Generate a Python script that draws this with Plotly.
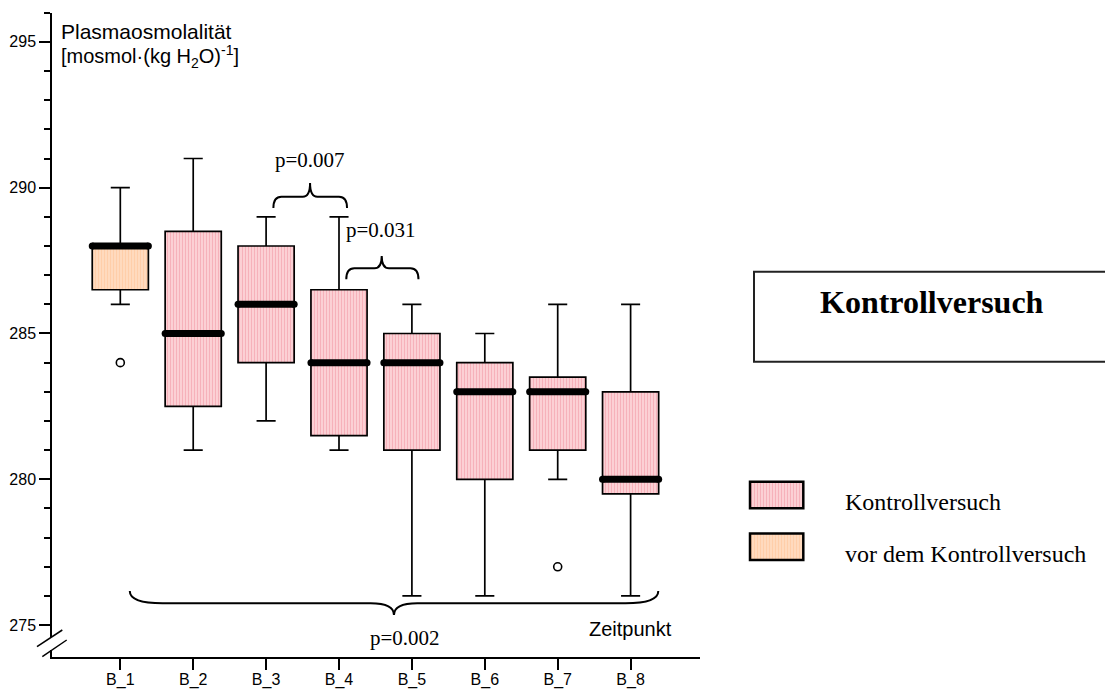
import plotly.graph_objects as go

# ---------------- data ----------------
categories = ["B_1", "B_2", "B_3", "B_4", "B_5", "B_6", "B_7", "B_8"]
lower_whisker = [286, 281, 282, 281, 276, 276, 280, 276]
q1_vals = [286.5, 282.5, 284, 281.5, 281, 280, 281, 279.5]
median_vals = [288, 285, 286, 284, 284, 283, 283, 280]
q3_vals = [288, 288.5, 288, 286.5, 285, 284, 283.5, 283]
upper_whisker = [290, 291, 289, 289, 286, 285, 286, 286]
group = ["vor", "kontroll", "kontroll", "kontroll", "kontroll", "kontroll", "kontroll", "kontroll"]
outlier_cat = ["B_1", "B_7"]
outlier_val = [284, 277]

legend_labels = ["Kontrollversuch", "vor dem Kontrollversuch"]
title_text = "Kontrollversuch"
y_title_1 = "Plasmaosmolalität"
y_title_2 = "[mosmol·(kg H<sub>2</sub>O)<sup>-1</sup>]"
x_title = "Zeitpunkt"

# brace annotations: (x_left, x_right, x_tip, y_line, y_end, y_tip, r_end, r_tip, label, label_x, label_y)
braces = [
    (2.10, 3.11, 2.603, 289.69, 289.30, 290.16, 0.11, 0.10, "p=0.007", 2.606, 290.95),
    (3.10, 4.09, 3.586, 287.24, 286.86, 287.66, 0.11, 0.10, "p=0.031", 3.578, 288.55),
    (0.13, 7.38, 3.754, 275.75, 276.17, 275.35, 0.45, 0.32, "p=0.002", 3.905, 274.55),
]

# ---------------- styles ----------------
W_FIG, H_FIG = 1105, 690
def fx(px):
    return px / W_FIG
def fy(py):
    return 1 - py / H_FIG

ARIAL = "Arial, Liberation Sans, sans-serif"
TIMES = "Times New Roman, Liberation Serif, serif"
PINK_FG, PINK_BG = "#EE7F8D", "#FFE3E6"
PEACH_FG, PEACH_BG = "#FFB985", "#FFE2CC"
BOXW = 0.77

xidx = list(range(len(categories)))
fig = go.Figure()

# patterned box fills (bars from q1 to q3)
for g, fg, bg in [("kontroll", PINK_FG, PINK_BG), ("vor", PEACH_FG, PEACH_BG)]:
    xs = [i for i in xidx if group[i] == g]
    fig.add_trace(go.Bar(
        x=xs, y=[q3_vals[i] - q1_vals[i] for i in xs], base=[q1_vals[i] for i in xs],
        width=BOXW, marker=dict(color=bg, line=dict(width=0),
                                pattern=dict(shape="|", fgcolor=fg, bgcolor=bg, size=3, solidity=0.6)),
        hoverinfo="skip", showlegend=False))

# box outlines and whiskers
fig.add_trace(go.Box(
    x=xidx, q1=q1_vals, median=median_vals, q3=q3_vals,
    lowerfence=lower_whisker, upperfence=upper_whisker,
    width=BOXW, whiskerwidth=0.34, fillcolor="rgba(0,0,0,0)",
    line=dict(color="black", width=1.7), boxpoints=False,
    hoverinfo="skip", showlegend=False))

# thick medians with rounded ends
mx, my = [], []
for i in xidx:
    mx += [i - BOXW / 2, i + BOXW / 2, None]
    my += [median_vals[i], median_vals[i], None]
fig.add_trace(go.Scatter(x=mx, y=my, mode="lines+markers",
                         line=dict(color="black", width=7),
                         marker=dict(color="black", size=7),
                         hoverinfo="skip", showlegend=False))

# outliers
fig.add_trace(go.Scatter(x=[categories.index(c) for c in outlier_cat], y=outlier_val,
                         mode="markers",
                         marker=dict(symbol="circle-open", size=8, color="black", line=dict(width=1.6)),
                         hoverinfo="skip", showlegend=False))

# legend patches in a small helper subplot
fig.add_trace(go.Bar(x=[1], y=[0], base=[0], orientation="h", width=0.515,
                     marker=dict(color=PINK_BG, line=dict(color="black", width=2.5),
                                 pattern=dict(shape="|", fgcolor=PINK_FG, bgcolor=PINK_BG, size=3, solidity=0.6)),
                     xaxis="x2", yaxis="y2", hoverinfo="skip", showlegend=False))
fig.add_trace(go.Bar(x=[1], y=[1], base=[0], orientation="h", width=0.515,
                     marker=dict(color=PEACH_BG, line=dict(color="black", width=2.5),
                                 pattern=dict(shape="|", fgcolor=PEACH_FG, bgcolor=PEACH_BG, size=3, solidity=0.6)),
                     xaxis="x2", yaxis="y2", hoverinfo="skip", showlegend=False))

shapes = []
annotations = []

# braces
for (x0, x1, xm, yh, ye, yt, re, rt, lab, lx, ly) in braces:
    path = (f"M {x0},{ye} Q {x0},{yh} {x0 + re},{yh} L {xm - rt},{yh} "
            f"Q {xm},{yh} {xm},{yt} Q {xm},{yh} {xm + rt},{yh} "
            f"L {x1 - re},{yh} Q {x1},{yh} {x1},{ye}")
    shapes.append(dict(type="path", path=path, xref="x", yref="y",
                       line=dict(color="black", width=2)))
    annotations.append(dict(text=lab, x=lx, y=ly, xref="x", yref="y", showarrow=False,
                            font=dict(family=TIMES, size=21, color="black"),
                            xanchor="center", yanchor="middle"))

# axis break
shapes.append(dict(type="line", xref="paper", yref="paper", x0=fx(52), x1=fx(52),
                   y0=fy(650), y1=fy(637), line=dict(color="white", width=5)))
shapes.append(dict(type="line", xref="paper", yref="paper", x0=fx(37), y0=fy(646.7),
                   x1=fx(62.3), y1=fy(630), line=dict(color="black", width=1.5)))
shapes.append(dict(type="line", xref="paper", yref="paper", x0=fx(42.3), y0=fy(656.7),
                   x1=fx(66.7), y1=fy(640), line=dict(color="black", width=1.5)))

# title box
shapes.append(dict(type="rect", xref="paper", yref="paper", x0=fx(754), x1=fx(1112),
                   y0=fy(361.7), y1=fy(271.7), line=dict(color="#222222", width=2),
                   fillcolor="rgba(0,0,0,0)"))
annotations.append(dict(text="<b>" + title_text + "</b>", x=fx(931.5), y=fy(302),
                        xref="paper", yref="paper", showarrow=False,
                        font=dict(family=TIMES, size=32, color="black"),
                        xanchor="center", yanchor="middle"))

# legend texts
for lab, yc in zip(legend_labels, [502, 554]):
    annotations.append(dict(text=lab, x=fx(843), y=fy(yc), xref="paper", yref="paper",
                            showarrow=False, font=dict(family=TIMES, size=24, color="black"),
                            xanchor="left", yanchor="middle"))

# axis titles
annotations.append(dict(text=y_title_1, x=fx(59), y=fy(31), xref="paper", yref="paper",
                        showarrow=False, font=dict(family=ARIAL, size=21, color="black"),
                        xanchor="left", yanchor="middle"))
annotations.append(dict(text=y_title_2, x=fx(59), y=fy(57), xref="paper", yref="paper",
                        showarrow=False, font=dict(family=ARIAL, size=20, color="black"),
                        xanchor="left", yanchor="middle"))
annotations.append(dict(text=x_title, x=fx(630), y=fy(629), xref="paper", yref="paper",
                        showarrow=False, font=dict(family=ARIAL, size=20, color="black"),
                        xanchor="center", yanchor="middle"))

fig.update_layout(
    width=W_FIG, height=H_FIG,
    margin=dict(l=0, r=0, t=0, b=0),
    paper_bgcolor="white", plot_bgcolor="rgba(0,0,0,0)",
    showlegend=False, barmode="overlay",
    shapes=shapes, annotations=annotations,
    xaxis=dict(domain=[fx(52), fx(700)], range=[-0.937, 7.952],
               tickmode="array", tickvals=xidx, ticktext=categories,
               ticks="outside", ticklen=11, tickwidth=1.5, tickcolor="black",
               ticklabelstandoff=-4,
               showline=True, linecolor="black", linewidth=1.5,
               showgrid=False, zeroline=False, automargin=False,
               tickfont=dict(family=ARIAL, size=16, color="black")),
    yaxis=dict(domain=[fy(657), fy(12.7)], range=[273.906, 296.0],
               tickmode="array", tickvals=[275, 280, 285, 290, 295],
               ticks="outside", ticklen=11, tickwidth=1.5, tickcolor="black",
               minor=dict(tickmode="array", tickvals=list(range(275, 297)),
                          ticks="outside", ticklen=6, tickwidth=1.5, tickcolor="black",
                          showgrid=False),
               showline=True, linecolor="black", linewidth=1.5,
               showgrid=False, zeroline=False, automargin=False,
               tickfont=dict(family=ARIAL, size=16, color="black")),
    xaxis2=dict(domain=[fx(747), fx(806.3)], range=[-0.0563, 1.0563], anchor="y2",
                visible=False, fixedrange=True),
    yaxis2=dict(domain=[fy(563), fy(478.7)], range=[1.315, -0.315], anchor="x2",
                visible=False, fixedrange=True),
)

fig.write_html("out.html")
